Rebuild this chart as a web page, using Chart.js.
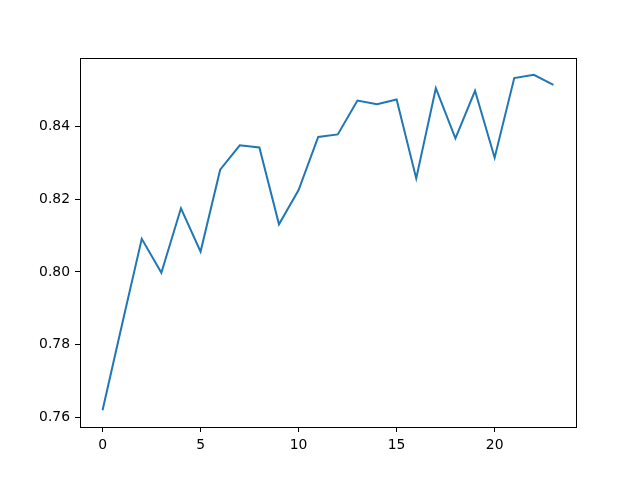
<!DOCTYPE html>
<html>
<head>
<meta charset="utf-8">
<script src="https://cdn.jsdelivr.net/npm/chart.js@4/dist/chart.umd.min.js"></script>
<style>
  html, body { margin: 0; padding: 0; background: #fff; }
  #wrap { width: 640px; height: 480px; }
</style>
</head>
<body>
<div id="wrap"><canvas id="grafik" width="640" height="480"></canvas></div>
<script>
// values
const epochs = [0, 1, 2, 3, 4, 5, 6, 7, 8, 9, 10, 11, 12, 13, 14, 15, 16, 17, 18, 19, 20, 21, 22, 23];
const scores = [0.7620, 0.7857, 0.8091, 0.7998, 0.8175, 0.8056, 0.8281, 0.8348, 0.8342, 0.8131,
                0.8225, 0.8371, 0.8378, 0.8471, 0.8461, 0.8474, 0.8257, 0.8505, 0.8367, 0.8498,
                0.8314, 0.8533, 0.8542, 0.8514];
const xTicks = [0, 5, 10, 15, 20];
const yTicks = [0.76, 0.78, 0.80, 0.82, 0.84];

const font = { family: "DejaVu Sans", size: 13.9 };

// matplotlib style box around the plot
const cerceve = {
  id: "cerceve",
  afterDraw(chart) {
    const { ctx, chartArea: a } = chart;
    ctx.save();
    ctx.strokeStyle = "#000";
    ctx.lineWidth = 1;
    ctx.strokeRect(Math.round(a.left) + 0.5, Math.round(a.top) + 0.5,
                   Math.round(a.right - a.left), Math.round(a.bottom - a.top));
    ctx.restore();
  }
};

new Chart(document.getElementById("grafik"), {
  type: "line",
  data: {
    datasets: [{
      data: epochs.map((e, i) => ({ x: e, y: scores[i] })),
      borderColor: "#1f77b4",
      borderWidth: 2,
      pointRadius: 0,
      tension: 0,
      fill: false
    }]
  },
  options: {
    responsive: false,
    animation: false,
    layout: { padding: { top: 58, right: 64, left: 0, bottom: 0 } },
    plugins: { legend: { display: false }, tooltip: { enabled: false } },
    scales: {
      x: {
        type: "linear",
        min: -1.15,
        max: 24.15,
        afterBuildTicks: s => { s.ticks = xTicks.map(v => ({ value: v })); },
        afterFit: s => { s.height = 53; },
        grid: { drawOnChartArea: false, tickLength: 5, color: "#000" },
        border: { display: false },
        ticks: { color: "#000", font, padding: 5, maxRotation: 0, callback: v => String(v) }
      },
      y: {
        min: 0.7574,
        max: 0.8588,
        afterBuildTicks: s => { s.ticks = yTicks.map(v => ({ value: v })); },
        afterFit: s => { s.width = 80; },
        grid: { drawOnChartArea: false, tickLength: 5, color: "#000" },
        border: { display: false },
        ticks: { color: "#000", font, padding: 5, callback: v => v.toFixed(2) }
      }
    }
  },
  plugins: [cerceve]
});
</script>
</body>
</html>
